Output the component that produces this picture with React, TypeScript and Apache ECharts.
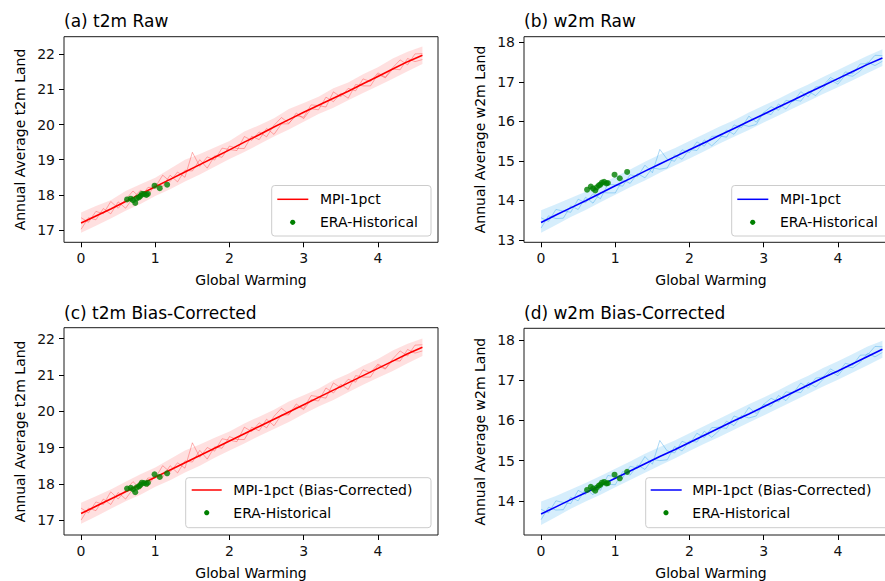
import { useEffect, useRef } from 'react';
import * as echarts from 'echarts';

// ---------- data ----------
const X_MEAN = [0, 0.2, 0.4, 0.6, 0.8, 1.0, 1.2, 1.4, 1.6, 1.8, 2.0, 2.2, 2.4, 2.6, 2.8, 3.0, 3.2, 3.4, 3.6, 3.8, 4.0, 4.2, 4.4, 4.6];
const X_MEMBER = [0, 0.1, 0.2, 0.3, 0.4, 0.5, 0.6, 0.7, 0.8, 0.9, 1.0, 1.1, 1.2, 1.3, 1.4, 1.5, 1.6, 1.7, 1.8, 1.9, 2.0, 2.1, 2.2, 2.3, 2.4, 2.5, 2.6, 2.7, 2.8, 2.9, 3.0, 3.1, 3.2, 3.3, 3.4, 3.5, 3.6, 3.7, 3.8, 3.9, 4.0, 4.1, 4.2, 4.3, 4.4, 4.5, 4.6];

const X_TICKS = [0, 1, 2, 3, 4];
const T2M_TICKS = [17, 18, 19, 20, 21, 22];
const W2M_RAW_TICKS = [13, 14, 15, 16, 17, 18];
const W2M_BC_TICKS = [14, 15, 16, 17, 18];

// (a) t2m raw
const A_MEAN = [17.20, 17.40, 17.60, 17.81, 18.02, 18.23, 18.44, 18.65, 18.86, 19.07, 19.28, 19.50, 19.71, 19.93, 20.14, 20.35, 20.55, 20.75, 20.95, 21.16, 21.37, 21.58, 21.79, 21.97];
const A_UPPER = [17.50, 17.68, 17.85, 18.11, 18.30, 18.49, 18.74, 19.00, 19.16, 19.35, 19.53, 19.80, 19.98, 20.18, 20.44, 20.61, 20.79, 21.03, 21.20, 21.43, 21.63, 21.88, 22.07, 22.22];
const A_LOWER = [16.92, 17.12, 17.33, 17.55, 17.74, 17.97, 18.16, 18.38, 18.58, 18.80, 19.02, 19.22, 19.44, 19.66, 19.86, 20.08, 20.30, 20.48, 20.69, 20.90, 21.10, 21.30, 21.52, 21.72];
const A_RUN1 = [17.35, 17.22, 17.53, 17.46, 17.81, 17.62, 17.87, 18.11, 17.91, 18.21, 18.22, 18.56, 18.38, 18.65, 18.50, 19.21, 18.81, 19.08, 18.99, 19.33, 19.29, 19.26, 19.66, 19.55, 19.79, 19.65, 19.98, 20.20, 20.04, 20.25, 20.21, 20.56, 20.54, 20.50, 20.93, 20.79, 21.03, 20.96, 21.30, 21.22, 21.47, 21.35, 21.62, 21.84, 21.70, 22.01, 22.02];
const A_RUN2 = [17.02, 17.35, 17.29, 17.61, 17.46, 17.80, 17.62, 17.91, 18.13, 17.97, 18.30, 18.24, 18.56, 18.37, 18.70, 18.68, 19.00, 18.76, 19.11, 19.07, 19.39, 19.32, 19.32, 19.67, 19.57, 19.89, 19.72, 20.02, 20.02, 20.33, 20.17, 20.45, 20.42, 20.78, 20.65, 20.89, 20.75, 21.14, 21.10, 21.10, 21.43, 21.33, 21.58, 21.56, 21.88, 21.79, 21.85];

// (b) w2m raw
const B_MEAN = [13.44, 13.63, 13.81, 13.99, 14.18, 14.37, 14.55, 14.74, 14.92, 15.10, 15.28, 15.46, 15.64, 15.82, 16.00, 16.18, 16.36, 16.54, 16.72, 16.90, 17.08, 17.26, 17.44, 17.60];
const B_UPPER = [13.75, 13.90, 14.06, 14.22, 14.40, 14.60, 14.78, 14.98, 15.16, 15.32, 15.50, 15.68, 15.86, 16.03, 16.22, 16.40, 16.57, 16.76, 16.93, 17.12, 17.30, 17.48, 17.66, 17.82];
const B_LOWER = [13.18, 13.38, 13.58, 13.76, 13.95, 14.14, 14.33, 14.50, 14.70, 14.88, 15.06, 15.24, 15.43, 15.61, 15.78, 15.97, 16.15, 16.33, 16.51, 16.69, 16.86, 17.04, 17.22, 17.40];
const B_RUN1 = [13.56, 13.47, 13.77, 13.73, 13.70, 14.03, 13.94, 14.17, 14.04, 14.41, 14.39, 14.36, 14.65, 14.60, 14.89, 14.70, 15.29, 15.04, 14.99, 15.28, 15.21, 15.48, 15.37, 15.62, 15.63, 15.60, 15.91, 15.84, 16.13, 15.98, 16.22, 16.37, 16.28, 16.53, 16.50, 16.75, 16.62, 16.87, 16.90, 17.11, 17.00, 17.25, 17.20, 17.45, 17.46, 17.67, 17.66];
const B_RUN2 = [13.30, 13.61, 13.54, 13.55, 13.86, 13.77, 14.08, 13.93, 14.20, 14.19, 14.19, 14.52, 14.43, 14.68, 14.57, 14.82, 14.79, 14.82, 15.15, 15.04, 15.29, 15.26, 15.53, 15.38, 15.55, 15.78, 15.67, 15.92, 15.87, 15.92, 16.22, 16.17, 16.44, 16.31, 16.54, 16.51, 16.76, 16.65, 16.84, 17.05, 16.94, 17.17, 17.14, 17.27, 17.50, 17.41, 17.52];

// (c) t2m bias-corrected
const C_MEAN = [17.18, 17.38, 17.58, 17.78, 17.98, 18.18, 18.38, 18.58, 18.78, 18.98, 19.18, 19.38, 19.58, 19.78, 19.98, 20.18, 20.38, 20.58, 20.78, 20.98, 21.18, 21.38, 21.58, 21.76];
const C_UPPER = [17.48, 17.66, 17.84, 18.06, 18.26, 18.45, 18.68, 18.92, 19.08, 19.27, 19.44, 19.66, 19.85, 20.04, 20.27, 20.44, 20.62, 20.85, 21.03, 21.25, 21.44, 21.67, 21.86, 22.00];
const C_LOWER = [16.90, 17.10, 17.31, 17.52, 17.70, 17.92, 18.10, 18.31, 18.50, 18.72, 18.92, 19.11, 19.32, 19.51, 19.70, 19.92, 20.13, 20.31, 20.52, 20.73, 20.92, 21.11, 21.32, 21.52];
const C_RUN1 = [17.33, 17.20, 17.50, 17.43, 17.78, 17.58, 17.83, 18.06, 17.86, 18.16, 18.16, 18.50, 18.32, 18.58, 18.43, 19.13, 18.73, 19.00, 18.90, 19.24, 19.20, 19.16, 19.56, 19.44, 19.68, 19.54, 19.86, 20.08, 19.92, 20.12, 20.08, 20.43, 20.40, 20.36, 20.78, 20.64, 20.88, 20.80, 21.14, 21.06, 21.30, 21.18, 21.44, 21.66, 21.52, 21.82, 21.83];
const C_RUN2 = [17.00, 17.33, 17.26, 17.58, 17.43, 17.76, 17.58, 17.86, 18.08, 17.92, 18.24, 18.18, 18.50, 18.30, 18.63, 18.60, 18.92, 18.68, 19.02, 18.98, 19.30, 19.22, 19.22, 19.56, 19.46, 19.78, 19.60, 19.90, 19.90, 20.20, 20.04, 20.32, 20.28, 20.64, 20.50, 20.74, 20.60, 20.98, 20.94, 20.94, 21.26, 21.16, 21.40, 21.38, 21.70, 21.60, 21.66];

// (d) w2m bias-corrected
const D_MEAN = [13.67, 13.85, 14.03, 14.20, 14.38, 14.56, 14.74, 14.92, 15.10, 15.27, 15.45, 15.63, 15.81, 15.99, 16.16, 16.34, 16.52, 16.70, 16.88, 17.06, 17.23, 17.41, 17.59, 17.77];
const D_UPPER = [13.98, 14.12, 14.28, 14.44, 14.62, 14.80, 14.98, 15.17, 15.34, 15.50, 15.68, 15.86, 16.04, 16.22, 16.40, 16.57, 16.75, 16.94, 17.11, 17.30, 17.47, 17.65, 17.84, 17.98];
const D_LOWER = [13.40, 13.60, 13.80, 13.98, 14.15, 14.34, 14.52, 14.70, 14.88, 15.05, 15.24, 15.42, 15.59, 15.77, 15.95, 16.12, 16.30, 16.48, 16.66, 16.84, 17.01, 17.19, 17.37, 17.56];
const D_RUN1 = [13.79, 13.70, 14.00, 13.96, 13.93, 14.26, 14.16, 14.39, 14.26, 14.63, 14.60, 14.57, 14.86, 14.81, 15.10, 14.91, 15.50, 15.24, 15.19, 15.48, 15.41, 15.68, 15.57, 15.82, 15.83, 15.80, 16.11, 16.04, 16.32, 16.17, 16.40, 16.55, 16.46, 16.71, 16.68, 16.93, 16.80, 17.05, 17.08, 17.28, 17.17, 17.42, 17.37, 17.62, 17.63, 17.84, 17.83];
const D_RUN2 = [13.53, 13.84, 13.77, 13.78, 14.09, 14.00, 14.30, 14.15, 14.42, 14.41, 14.40, 14.73, 14.64, 14.89, 14.78, 15.03, 15.00, 15.02, 15.35, 15.24, 15.49, 15.46, 15.73, 15.58, 15.75, 15.98, 15.87, 16.12, 16.06, 16.11, 16.40, 16.35, 16.62, 16.49, 16.72, 16.69, 16.94, 16.83, 17.02, 17.22, 17.11, 17.34, 17.31, 17.44, 17.67, 17.58, 17.69];

// ERA historical
const ERA_GW = [0.62, 0.67, 0.70, 0.73, 0.75, 0.78, 0.80, 0.82, 0.85, 0.88, 0.90, 0.99, 1.06, 1.16];
const ERA_T2M = [17.87, 17.89, 17.85, 17.77, 17.90, 17.93, 17.97, 18.03, 18.02, 18.00, 18.03, 18.26, 18.19, 18.29];
const ERA_W2M = [14.27, 14.35, 14.30, 14.25, 14.33, 14.38, 14.40, 14.45, 14.47, 14.43, 14.44, 14.65, 14.56, 14.72];

// ---------- layout & style ----------
const FONT = 'DejaVu Sans';
const RED = { line: '#ff0000', band: 'rgba(255,70,70,0.17)', run: 'rgba(255,40,40,0.40)' };
const BLUE = { line: '#0000ff', band: 'rgba(120,200,245,0.30)', run: 'rgba(70,170,235,0.50)' };

const PANELS = [
  {
    title: '(a) t2m Raw', ylabel: 'Annual Average t2m Land', lineName: 'MPI-1pct',
    grid: { left: 64, top: 36.7, width: 374, height: 205.6 }, yMin: 16.65, yMax: 22.5, yTicks: T2M_TICKS,
    mean: A_MEAN, upper: A_UPPER, lower: A_LOWER, runs: [A_RUN1, A_RUN2], era: ERA_T2M, col: RED,
    titleTop: 12, leg: { x: 271.7, y: 185.5, w: 159.3, h: 50.5, lx: 277.3, lw: 31, tx: 320, dx: 292.7, r1: 199.3, r2: 222.3 },
  },
  {
    title: '(b) w2m Raw', ylabel: 'Annual Average w2m Land', lineName: 'MPI-1pct',
    grid: { left: 524, top: 36.7, width: 374, height: 205.6 }, yMin: 12.94, yMax: 18.14, yTicks: W2M_RAW_TICKS,
    mean: B_MEAN, upper: B_UPPER, lower: B_LOWER, runs: [B_RUN1, B_RUN2], era: ERA_W2M, col: BLUE,
    titleTop: 12, leg: { x: 731.7, y: 185.5, w: 159.3, h: 50.5, lx: 737.3, lw: 31, tx: 780, dx: 752.7, r1: 199.3, r2: 222.3 },
  },
  {
    title: '(c) t2m Bias-Corrected', ylabel: 'Annual Average t2m Land', lineName: 'MPI-1pct (Bias-Corrected)',
    grid: { left: 64, top: 327.7, width: 374, height: 207.3 }, yMin: 16.59, yMax: 22.3, yTicks: T2M_TICKS,
    mean: C_MEAN, upper: C_UPPER, lower: C_LOWER, runs: [C_RUN1, C_RUN2], era: ERA_T2M, col: RED,
    titleTop: 304.5, leg: { x: 185.7, y: 477.7, w: 245.3, h: 50, lx: 191.7, lw: 30, tx: 233.3, dx: 206.7, r1: 490, r2: 512.7 },
  },
  {
    title: '(d) w2m Bias-Corrected', ylabel: 'Annual Average w2m Land', lineName: 'MPI-1pct (Bias-Corrected)',
    grid: { left: 524, top: 328.3, width: 374, height: 206.7 }, yMin: 13.15, yMax: 18.29, yTicks: W2M_BC_TICKS,
    mean: D_MEAN, upper: D_UPPER, lower: D_LOWER, runs: [D_RUN1, D_RUN2], era: ERA_W2M, col: BLUE,
    titleTop: 304.5, leg: { x: 645.7, y: 477.7, w: 245.3, h: 50, lx: 650.7, lw: 31, tx: 692.3, dx: 666, r1: 490, r2: 512.7 },
  },
];

function buildOption() {
  const grid: any[] = [];
  const xAxis: any[] = [];
  const yAxis: any[] = [];
  const series: any[] = [];
  const title: any[] = [];
  const graphic: any[] = [];

  PANELS.forEach((p, i) => {
    grid.push({
      ...p.grid, show: true, borderColor: '#1a1a1a', borderWidth: 1, backgroundColor: '#fff',
      containLabel: false, outerBoundsMode: 'none',
    });
    xAxis.push({
      type: 'value', gridIndex: i, min: -0.23, max: 4.81,
      name: 'Global Warming', nameLocation: 'middle', nameGap: 31, nameMoveOverlap: false,
      nameTextStyle: { fontFamily: FONT, fontSize: 14, color: '#000' },
      axisLine: { show: false, onZero: false },
      splitLine: { show: false },
      axisTick: { show: true, inside: false, length: 5, customValues: X_TICKS, lineStyle: { color: '#000', width: 1 } },
      axisLabel: { show: true, customValues: X_TICKS, margin: 9, fontFamily: FONT, fontSize: 14, color: '#111' },
    });
    yAxis.push({
      type: 'value', gridIndex: i, min: p.yMin, max: p.yMax,
      name: p.ylabel, nameLocation: 'middle', nameGap: 37, nameRotate: 90, nameMoveOverlap: false,
      nameTextStyle: { fontFamily: FONT, fontSize: 14, color: '#000' },
      axisLine: { show: false, onZero: false },
      splitLine: { show: false },
      axisTick: { show: true, inside: false, length: 5, customValues: p.yTicks, lineStyle: { color: '#000', width: 1 } },
      axisLabel: { show: true, customValues: p.yTicks, margin: 9, fontFamily: FONT, fontSize: 14, color: '#111' },
    });
    title.push({
      text: p.title, left: p.grid.left, top: p.titleTop, padding: 0,
      textStyle: { fontFamily: FONT, fontSize: 17, fontWeight: 'normal', color: '#000' },
    });

    const upper = p.upper;
    const lower = p.lower;
    series.push({
      type: 'custom', xAxisIndex: i, yAxisIndex: i, silent: true, clip: true, z: 1,
      data: [[X_MEAN[0], lower[0]]],
      renderItem: (_params: any, api: any) => {
        const top = upper.map((v, k) => api.coord([X_MEAN[k], v]));
        const bottom = lower.map((v, k) => api.coord([X_MEAN[k], v])).reverse();
        return { type: 'polygon', shape: { points: top.concat(bottom) }, style: { fill: p.col.band } };
      },
    });
    p.runs.forEach((run) => {
      series.push({
        type: 'line', xAxisIndex: i, yAxisIndex: i, silent: true, symbol: 'none', z: 2,
        lineStyle: { color: p.col.run, width: 0.9 },
        data: X_MEMBER.map((x, k) => [x, run[k]]),
      });
    });
    series.push({
      name: p.lineName, type: 'line', xAxisIndex: i, yAxisIndex: i, symbol: 'none', z: 3,
      lineStyle: { color: p.col.line, width: 1.6 },
      data: X_MEAN.map((x, k) => [x, p.mean[k]]),
    });
    series.push({
      name: 'ERA-Historical', type: 'scatter', xAxisIndex: i, yAxisIndex: i, z: 4,
      symbolSize: 6, itemStyle: { color: '#008000' },
      data: ERA_GW.map((x, k) => [x, p.era[k]]),
    });

    const L = p.leg;
    graphic.push({
      type: 'group', z: 100, children: [
        { type: 'rect', shape: { x: L.x, y: L.y, width: L.w, height: L.h, r: 3 }, style: { fill: 'rgba(255,255,255,0.85)', stroke: '#cccccc', lineWidth: 1 } },
        { type: 'line', shape: { x1: L.lx, y1: L.r1, x2: L.lx + L.lw, y2: L.r1 }, style: { stroke: p.col.line, lineWidth: 1.5 } },
        { type: 'text', x: L.tx, y: L.r1, style: { text: p.lineName, fontFamily: FONT, fontSize: 14, fill: '#000', verticalAlign: 'middle', align: 'left' } },
        { type: 'circle', shape: { cx: L.dx, cy: L.r2, r: 2.6 }, style: { fill: '#008000' } },
        { type: 'text', x: L.tx, y: L.r2, style: { text: 'ERA-Historical', fontFamily: FONT, fontSize: 14, fill: '#000', verticalAlign: 'middle', align: 'left' } },
      ],
    });
  });

  return {
    animation: false,
    backgroundColor: '#ffffff',
    textStyle: { fontFamily: FONT },
    title, grid, xAxis, yAxis, series, graphic,
  };
}

export default function App() {
  const ref = useRef<HTMLDivElement>(null);
  useEffect(() => {
    if (!ref.current) return;
    const chart = echarts.init(ref.current, null, { renderer: 'svg' });
    chart.setOption(buildOption() as any);
    return () => chart.dispose();
  }, []);
  return <div ref={ref} style={{ position: 'absolute', left: 0, top: 0, width: 885, height: 581 }} />;
}
